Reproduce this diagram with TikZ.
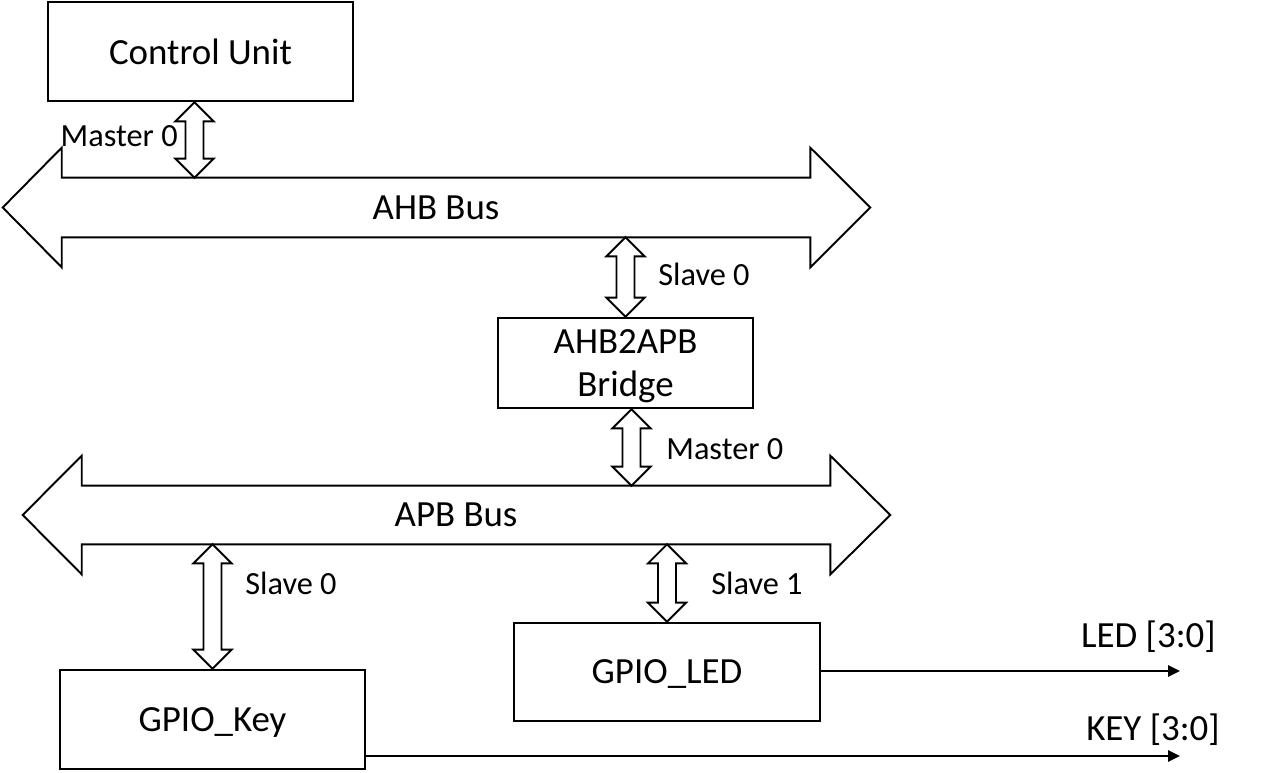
\documentclass[tikz,border=0pt]{standalone}
\usepackage{fontspec}
\setmainfont{Carlito}
\usetikzlibrary{arrows.meta,calc}

% hollow double arrow from #1 (top tip) to #2 (bottom tip)
\newcommand{\fatlink}[2]{%
  \draw[link] (#1) -- ++(19,19) -- ++(-10,0) -- ($(#2)+(9,-19)$) -- ++(10,0)
    -- (#2) -- ++(-19,-19) -- ++(10,0) -- ($(#1)+(-9,19)$) -- ++(-10,0) -- cycle;}
% bus outline round a shaft node
\newcommand{\busoutline}[1]{%
  \draw[bus] (#1.north west) -- ++(0,-30) -- ($(#1.west)+(-59,0)$)
    -- ($(#1.south west)+(0,30)$) -- (#1.south west) -- (#1.south east)
    -- ++(0,30) -- ($(#1.east)+(60,0)$) -- ($(#1.north east)+(0,-30)$)
    -- (#1.north east) -- cycle;}

\begin{document}
\begin{tikzpicture}[x=0.02cm,y=-0.02cm,
  block/.style={draw,line width=1.5pt,align=center,text depth=0pt,font=\fontsize{21}{25}\selectfont},
  bus/.style={line width=1.1pt,line join=miter},
  link/.style={line width=1.1pt},
  tag/.style={inner sep=0pt,font=\fontsize{18.4}{22}\selectfont},
  sig/.style={line width=1.5pt,-{Triangle[length=0.24cm,width=0.22cm]}}]
\useasboundingbox (0,0) rectangle (1281,772);

% blocks
\node[block,minimum width=6.1cm,minimum height=1.98cm] (cu) at (200.5,51.5) {Control Unit};
\node[block,minimum width=5.1cm,minimum height=1.8cm] (bridge) at (625.5,363) {AHB2APB\\Bridge};
\node[block,minimum width=6.12cm,minimum height=1.96cm] (led) at (667,672) {GPIO\_LED};
\node[block,minimum width=6.1cm,minimum height=1.98cm] (key) at (212.5,719.5) {GPIO\_Key};

% buses
\node[minimum width=14.96cm,minimum height=1.18cm,font=\fontsize{21}{25}\selectfont] (ahb) at (436,207.5) {AHB Bus};
\node[minimum width=14.96cm,minimum height=1.16cm,font=\fontsize{21}{25}\selectfont] (apb) at (456,515) {APB Bus};
\busoutline{ahb}
\busoutline{apb}

% bus ports
\path (cu.south) ++(-6,0) coordinate (cuport);
\path (bridge.south) ++(6,0) coordinate (brport);
\fatlink{cuport}{cuport |- ahb.north}
\fatlink{bridge.north |- ahb.south}{bridge.north}
\fatlink{brport}{brport |- apb.north}
\fatlink{key.north |- apb.south}{key.north}
\fatlink{led.north |- apb.south}{led.north}

\node[tag,anchor=base east] (m0) at (178,146) {Master 0};
\node[tag,anchor=base west] (s0) at (658,285) {Slave 0};
\node[tag,anchor=base west] (m0b) at (666,459) {Master 0};
\node[tag,anchor=base west] (s0b) at (245,594) {Slave 0};
\node[tag,anchor=base west] (s1) at (711,594) {Slave 1};

% outputs
\coordinate (ledend) at (1180,671);
\coordinate (keyend) at (1180,756);
\draw[sig] (led.east |- ledend) -- (ledend);
\draw[sig] (key.east |- keyend) -- (keyend);
\node[tag,anchor=base east,font=\fontsize{21}{25}\selectfont] (ledtag) at (1216,647) {LED [3:0]};
\node[tag,anchor=base east,font=\fontsize{21}{25}\selectfont] (keytag) at (1220,740) {KEY [3:0]};
\end{tikzpicture}
\end{document}
